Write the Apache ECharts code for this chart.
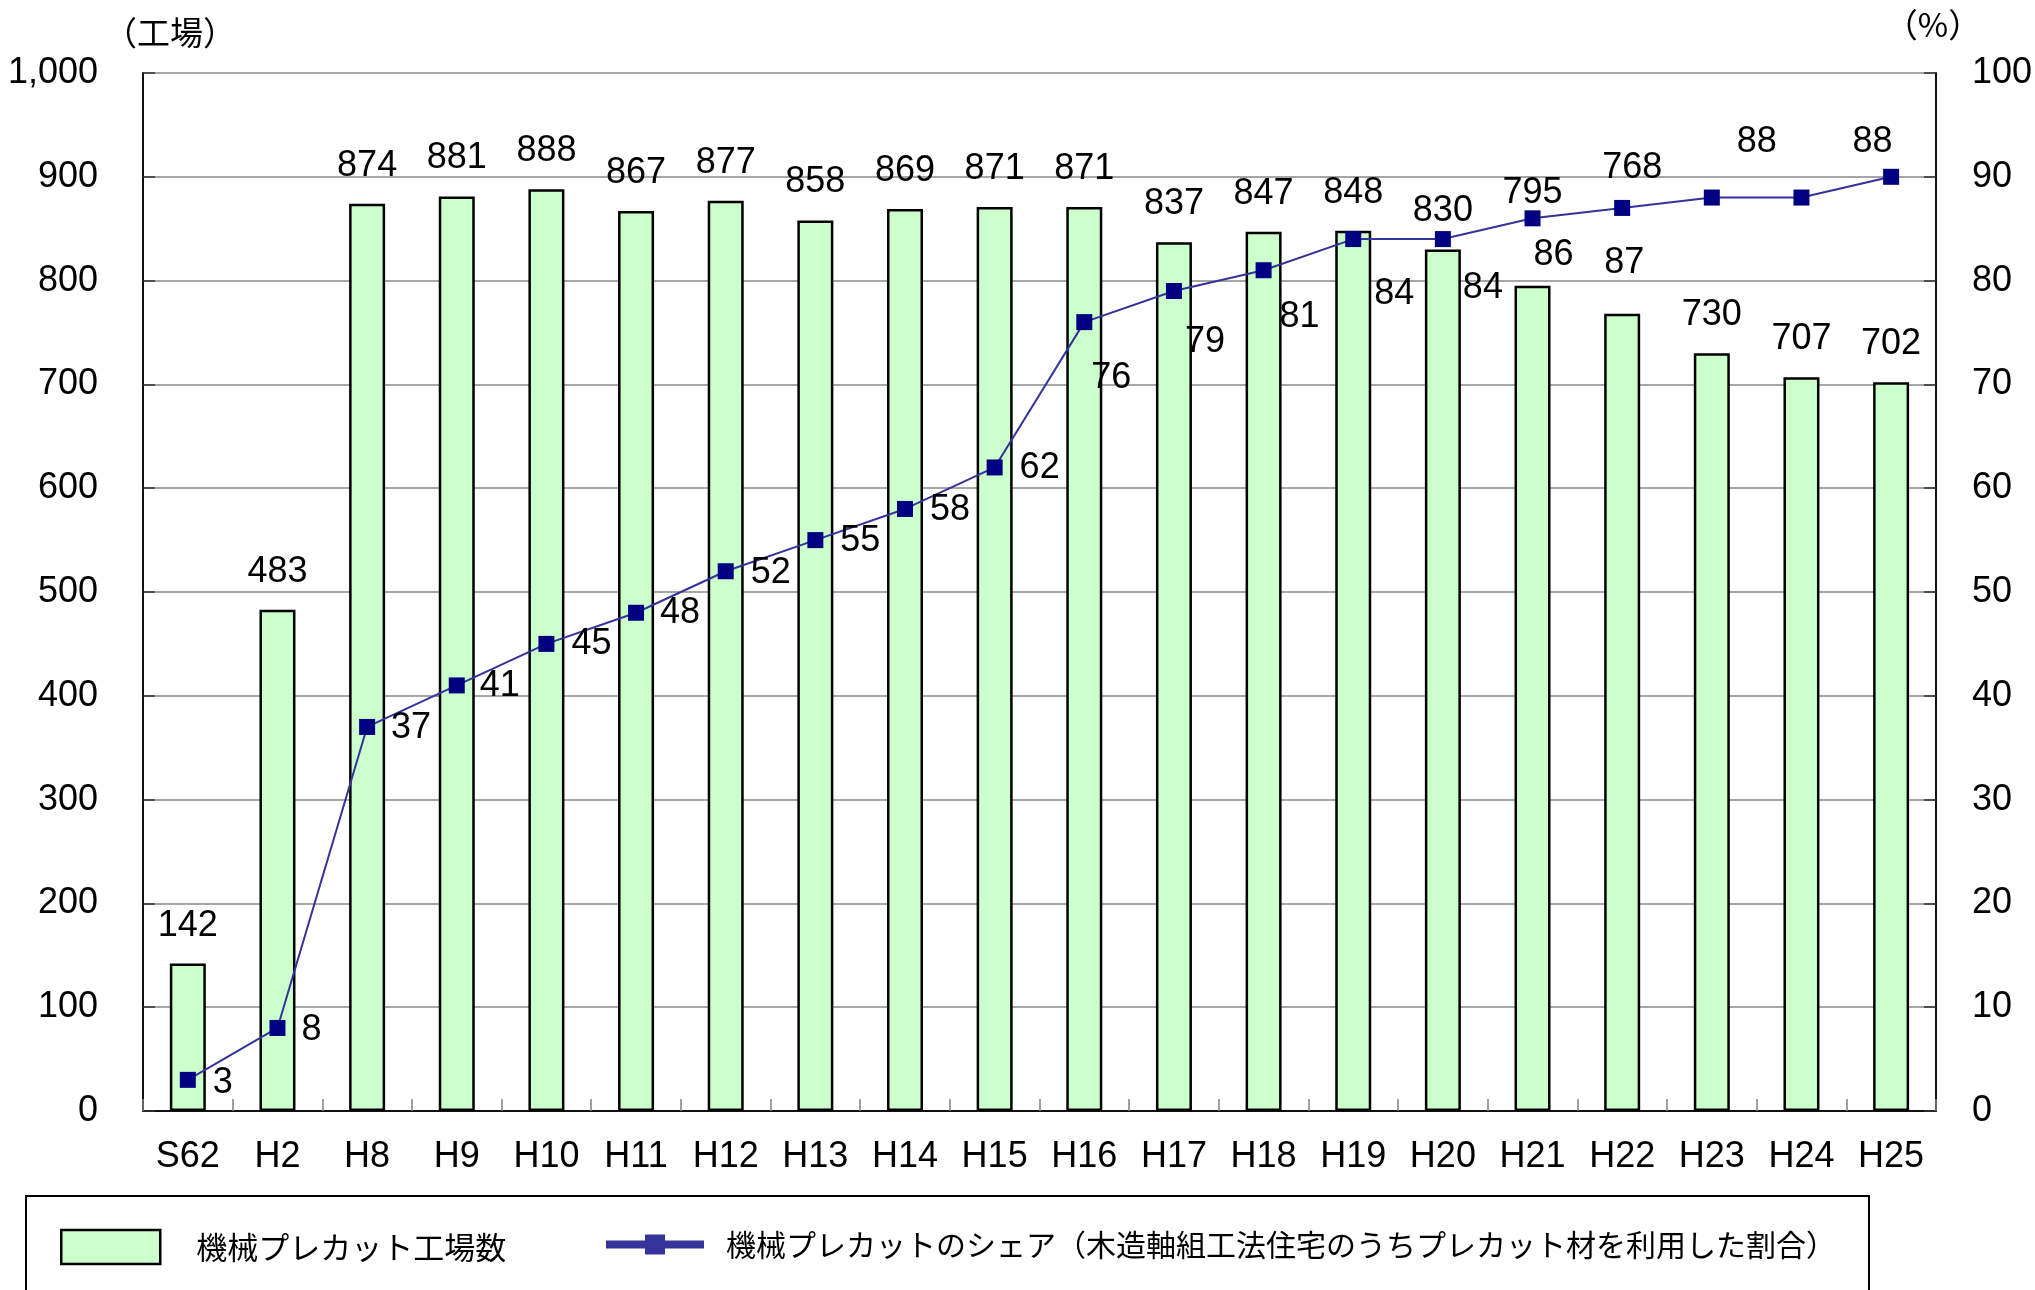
<!DOCTYPE html>
<html>
<head>
<meta charset="utf-8">
<script src="https://cdn.jsdelivr.net/npm/echarts@6/dist/echarts.min.js"></script>
<style>
html,body{margin:0;padding:0;background:#fff;}
#chart{width:2035px;height:1290px;}
</style>
</head>
<body>
<div id="chart"></div>
<script>
// ---- data ----
const categories = ['S62','H2','H8','H9','H10','H11','H12','H13','H14','H15','H16','H17','H18','H19','H20','H21','H22','H23','H24','H25'];
const factoryCounts = [142,483,874,881,888,867,877,858,869,871,871,837,847,848,830,795,768,730,707,702];
const precutShare = [3,8,37,41,45,48,52,55,58,62,76,79,81,84,84,86,87,88,88,90];
const seriesNames = ['機械プレカット工場数','機械プレカットのシェア（木造軸組工法住宅のうちプレカット材を利用した割合）'];
const leftUnit = '（工場）';
const rightUnit = '（%）';

// ---- label placement (style only) ----
const barLabelShift = {15:[0,-55], 16:[10,-108]};
const shareLabelShift = [[35,3],[34,2],[44,1],[43,1],[45,0],[44,0],[45,2],[45,1],[45,1],[45,1],
  [27,56],[31,51],[36,47],[41,55],[40,49],[21,37],[2,55],[45,-55],[71,-55],null];

const NUM_FONT = "'Liberation Sans', Arial, 'Noto Sans CJK JP', sans-serif";
const JP_FONT = "'Noto Sans CJK JP', 'Noto Sans CJK SC', sans-serif";

const barData = factoryCounts.map((v,i)=>{
  const d = {value:v};
  if (barLabelShift[i]) d.label = {offset: barLabelShift[i]};
  return d;
});
const lineData = precutShare.map((v,i)=>{
  const off = shareLabelShift[i];
  return off ? {value:v, label:{offset:off}} : {value:v, label:{show:false}};
});

const chart = echarts.init(document.getElementById('chart'), null, {renderer:'canvas'});
chart.setOption({
  animation:false,
  backgroundColor:'#fff',
  grid:{left:143, right:96, top:73, bottom:179, containLabel:false},
  xAxis:{
    type:'category', data:categories, boundaryGap:true,
    axisLine:{lineStyle:{color:'#111', width:2}},
    axisTick:{show:true, inside:true, length:12, alignWithLabel:false, lineStyle:{color:'#808080', width:1.5}},
    axisLabel:{fontSize:36, color:'#000', fontFamily:NUM_FONT, margin:28, interval:0}
  },
  yAxis:[
    {type:'value', min:0, max:1000, interval:100, position:'left',
     axisLine:{show:true, lineStyle:{color:'#111', width:2}},
     axisTick:{show:true, inside:true, length:12, lineStyle:{color:'#333', width:1.5}},
     splitLine:{show:true, lineStyle:{color:'#888', width:1.5}},
     axisLabel:{fontSize:36, color:'#000', fontFamily:NUM_FONT, margin:45,
       formatter:v=>v.toLocaleString('en-US')}},
    {type:'value', min:0, max:100, interval:10, position:'right',
     axisLine:{show:true, lineStyle:{color:'#111', width:2}},
     axisTick:{show:true, inside:true, length:12, lineStyle:{color:'#333', width:1.5}},
     splitLine:{show:false},
     axisLabel:{fontSize:36, color:'#000', fontFamily:NUM_FONT, margin:36}}
  ],
  legend:[
    {data:[{name:seriesNames[0], icon:'rect', itemStyle:{color:'#CCFFCC', borderColor:'#000', borderWidth:2.5}}],
     left:55, top:1217, itemWidth:99, itemHeight:34, selectedMode:false,
     textStyle:{fontSize:31, color:'#000', fontFamily:JP_FONT, padding:[0,0,16,31], lineHeight:34}},
    {data:[{name:seriesNames[1], itemStyle:{color:'#333399', borderWidth:0}, lineStyle:{color:'#333399', width:8}}],
     left:597, top:1224, itemWidth:98, itemHeight:25, selectedMode:false,
     textStyle:{fontSize:30, color:'#000', fontFamily:JP_FONT, padding:[0,0,6,17], lineHeight:25}}
  ],
  graphic:[
    {type:'rect', shape:{x:26, y:1196, width:1843, height:200}, style:{fill:'transparent', stroke:'#000', lineWidth:2}, z:-1},
    {type:'text', x:170, y:32, style:{text:leftUnit, fill:'#000', font:'33px '+JP_FONT, textAlign:'center', textVerticalAlign:'middle'}},
    {type:'text', x:1933, y:24, style:{text:rightUnit, fill:'#000', font:'33px '+JP_FONT, textAlign:'center', textVerticalAlign:'middle'}}
  ],
  series:[
    {name:seriesNames[0], type:'bar', yAxisIndex:0, data:barData, barWidth:36, z:2,
     itemStyle:{color:'#CCFFCC', borderColor:'#000', borderWidth:2.5},
     label:{show:true, position:'top', distance:20, fontSize:36, lineHeight:36, color:'#000', fontFamily:NUM_FONT}},
    {name:seriesNames[1], type:'line', yAxisIndex:1, data:lineData, z:3,
     symbol:'rect', symbolSize:16, showAllSymbol:true,
     itemStyle:{color:'#000080'}, lineStyle:{color:'#333399', width:2},
     label:{show:true, position:'inside', fontSize:36, lineHeight:36, color:'#000', fontFamily:NUM_FONT, align:'center', verticalAlign:'middle'}}
  ]
});
</script>
</body>
</html>
